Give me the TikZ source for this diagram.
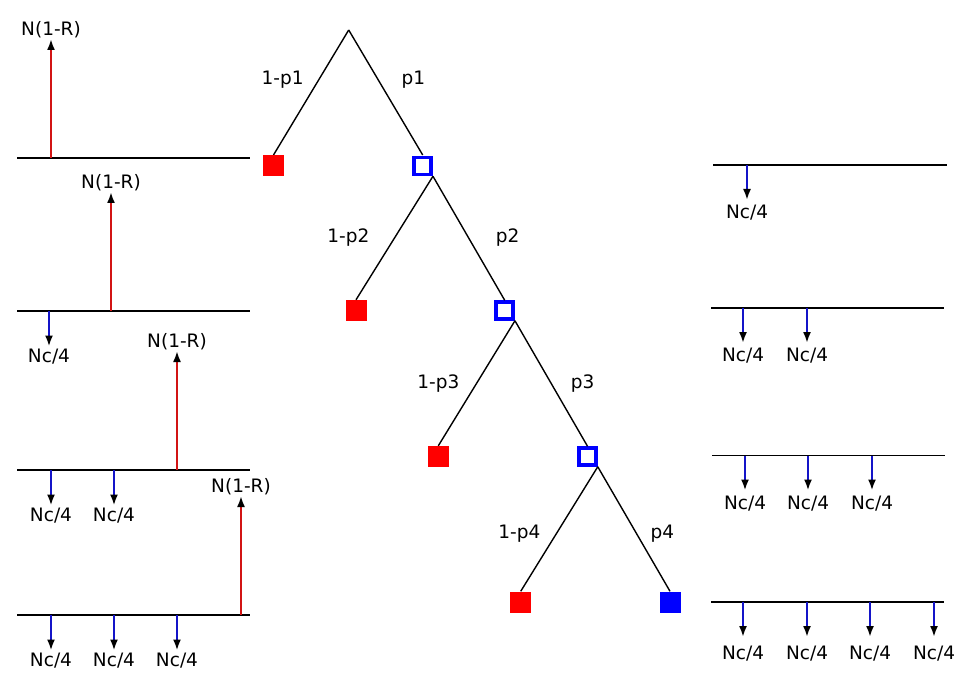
\documentclass[tikz,border=0pt]{standalone}
\usepackage{fontspec}
\setmainfont{DejaVu Sans}
\usetikzlibrary{arrows.meta}
\definecolor{gainred}{RGB}{210,20,20}
\definecolor{costblue}{RGB}{20,20,200}

\begin{document}
\begin{tikzpicture}[x=1pt,y=-1pt,font=\fontsize{18.5}{21}\selectfont,
    base/.style={line width=1.5pt},
    branch/.style={line width=1.4pt},
    uparrow/.style={draw=gainred,line width=2pt,-{Latex[black,length=11pt,width=8pt]}},
    downarrow/.style={draw=costblue,line width=2pt,-{Latex[black,length=11pt,width=8pt]}},
    lbl/.style={inner sep=1pt},
    stopbox/.style={fill=red,minimum size=21pt,inner sep=0pt},
    contbox/.style={draw=blue,line width=3.5pt,fill=white,minimum size=17pt,inner sep=0pt},
    endbox/.style={fill=blue,minimum size=21pt,inner sep=0pt}]
      \useasboundingbox (0,0) rectangle (960,676);
      % decision tree
      \coordinate (root) at (348.7,30);
      \path[branch] (root) edge (273.5,155) (root) edge (422.7,155);
      \node[stopbox] (s1) at (273.5,166) {};
      \node[contbox] (c1) at (422.7,166) {};
      \node[stopbox] (s2) at (356,310.5) {};
      \node[contbox] (c2) at (504.7,310.5) {};
      \node[stopbox] (s3) at (438.3,456.5) {};
      \node[contbox] (c3) at (587.5,456.5) {};
      \node[stopbox] (s4) at (520.7,602) {};
      \node[endbox] (e4) at (670,602) {};
      \path[branch] (c1.south east) edge (s2.north);
      \path[branch] (c1.south east) edge (c2.north);
      \path[branch] (c2.south east) edge (s3.north);
      \path[branch] (c2.south east) edge (c3.north);
      \path[branch] (c3.south east) edge (s4.north);
      \path[branch] (c3.south east) edge (e4.north);
      \foreach \i/\lx/\rx/\ly in {1/282.7/413.3/79.3, 2/348.3/507.7/237.3,
                                  3/438.3/582.7/383.3, 4/519.3/662.3/534} {
        \node (ql\i) at (\lx,\ly) {1-p\i};
        \node (qr\i) at (\rx,\ly) {p\i};
      }
      % left: stop outcomes
      \foreach \k/\y/\xr in {1/158/51, 2/311/111, 3/470/177, 4/615/241} {
        \coordinate (la\k) at (17,\y);
        \coordinate (lb\k) at (250,\y);
        \draw[base] (la\k) -- (lb\k);
        \coordinate (g\k) at (\xr,\y);
        \node[lbl,anchor=south] (gl\k) at (\xr,{\y-119}) {N(1-R)};
        \draw[uparrow] (g\k) -- (gl\k.south);
      }
      \foreach \y/\x/\n in {311/49/l21, 470/51/l31, 470/114/l32,
                            615/51/l41, 615/114/l42, 615/177/l43} {
        \coordinate (f\n) at (\x,\y);
        \node[lbl,anchor=north] (\n) at (\x,{\y+37}) {Nc/4};
        \draw[downarrow,shorten >=1.5pt] (f\n) -- (\n.north);
      }
      % right: continue outcomes
      \foreach \k/\y/\xa/\xb in {1/165/713/947, 2/308/711/944, 3/455.5/712/945, 4/602/711/944} {
        \coordinate (ra\k) at (\xa,\y);
        \coordinate (rb\k) at (\xb,\y);
        \draw[base] (ra\k) -- (rb\k);
      }
      \foreach \y/\x/\d/\n in {165/747/39/r11, 308/743/39/r21, 308/807/39/r22,
                            455.5/745/39/r31, 455.5/808/39/r32, 455.5/872/39/r33,
                            602/743/43/r41, 602/807/43/r42, 602/870/43/r43, 602/934/43/r44} {
        \coordinate (f\n) at (\x,\y);
        \node[lbl,anchor=north] (\n) at (\x,{\y+\d}) {Nc/4};
        \draw[downarrow,shorten >={\d-35}] (f\n) -- (\n.north);
      }
    \end{tikzpicture}
\end{document}
